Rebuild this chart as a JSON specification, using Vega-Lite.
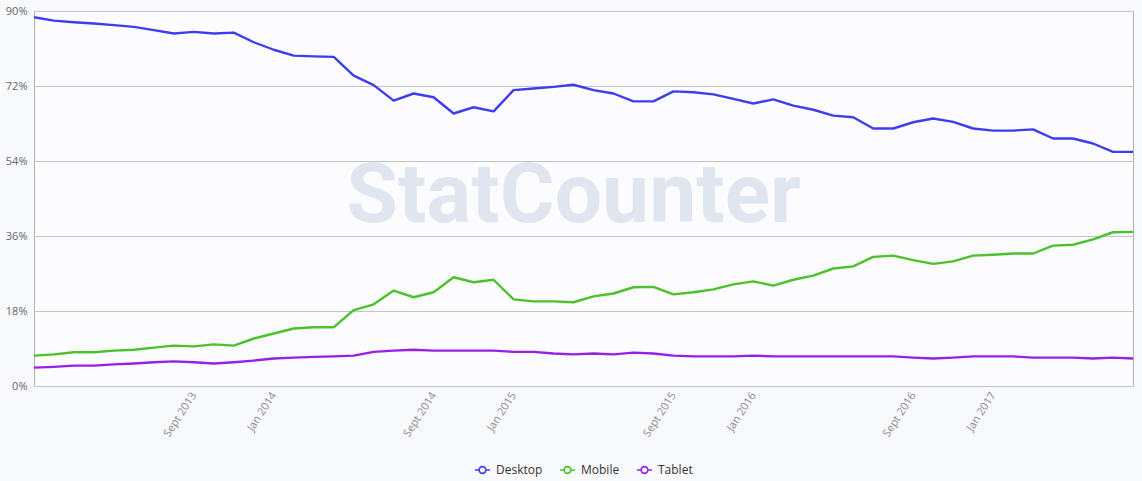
{
  "$schema": "https://vega.github.io/schema/vega-lite/v6.json",
  "width": 1099,
  "height": 375,
  "autosize": "none",
  "padding": {"left": 34, "top": 11, "right": 9, "bottom": 95},
  "background": "#f8f9fc",
  "config": {
    "view": {"stroke": "#b0b0b0", "strokeWidth": 1, "fill": "#fcfcfe"},
    "font": "Open Sans"
  },
  "data": {
    "values": [
      {"month": "2013-01", "Desktop": 88.5, "Mobile": 7.3, "Tablet": 4.4},
      {"month": "2013-02", "Desktop": 87.7, "Mobile": 7.6, "Tablet": 4.6},
      {"month": "2013-03", "Desktop": 87.3, "Mobile": 8.1, "Tablet": 4.9},
      {"month": "2013-04", "Desktop": 87.0, "Mobile": 8.1, "Tablet": 4.9},
      {"month": "2013-05", "Desktop": 86.6, "Mobile": 8.5, "Tablet": 5.2},
      {"month": "2013-06", "Desktop": 86.2, "Mobile": 8.7, "Tablet": 5.4},
      {"month": "2013-07", "Desktop": 85.4, "Mobile": 9.2, "Tablet": 5.7},
      {"month": "2013-08", "Desktop": 84.6, "Mobile": 9.7, "Tablet": 5.9},
      {"month": "2013-09", "Desktop": 85.0, "Mobile": 9.5, "Tablet": 5.7},
      {"month": "2013-10", "Desktop": 84.6, "Mobile": 10.0, "Tablet": 5.4},
      {"month": "2013-11", "Desktop": 84.8, "Mobile": 9.7, "Tablet": 5.7},
      {"month": "2013-12", "Desktop": 82.5, "Mobile": 11.4, "Tablet": 6.1},
      {"month": "2014-01", "Desktop": 80.7, "Mobile": 12.6, "Tablet": 6.6},
      {"month": "2014-02", "Desktop": 79.3, "Mobile": 13.8, "Tablet": 6.8},
      {"month": "2014-03", "Desktop": 79.1, "Mobile": 14.1, "Tablet": 7.0},
      {"month": "2014-04", "Desktop": 79.0, "Mobile": 14.1, "Tablet": 7.1},
      {"month": "2014-05", "Desktop": 74.5, "Mobile": 18.2, "Tablet": 7.3},
      {"month": "2014-06", "Desktop": 72.2, "Mobile": 19.6, "Tablet": 8.2},
      {"month": "2014-07", "Desktop": 68.5, "Mobile": 22.9, "Tablet": 8.5},
      {"month": "2014-08", "Desktop": 70.2, "Mobile": 21.3, "Tablet": 8.7},
      {"month": "2014-09", "Desktop": 69.3, "Mobile": 22.5, "Tablet": 8.5},
      {"month": "2014-10", "Desktop": 65.4, "Mobile": 26.1, "Tablet": 8.5},
      {"month": "2014-11", "Desktop": 66.9, "Mobile": 24.9, "Tablet": 8.5},
      {"month": "2014-12", "Desktop": 65.9, "Mobile": 25.5, "Tablet": 8.5},
      {"month": "2015-01", "Desktop": 71.0, "Mobile": 20.8, "Tablet": 8.2},
      {"month": "2015-02", "Desktop": 71.4, "Mobile": 20.3, "Tablet": 8.2},
      {"month": "2015-03", "Desktop": 71.8, "Mobile": 20.3, "Tablet": 7.8},
      {"month": "2015-04", "Desktop": 72.3, "Mobile": 20.1, "Tablet": 7.6},
      {"month": "2015-05", "Desktop": 71.0, "Mobile": 21.5, "Tablet": 7.8},
      {"month": "2015-06", "Desktop": 70.2, "Mobile": 22.2, "Tablet": 7.6},
      {"month": "2015-07", "Desktop": 68.3, "Mobile": 23.7, "Tablet": 8.0},
      {"month": "2015-08", "Desktop": 68.3, "Mobile": 23.8, "Tablet": 7.8},
      {"month": "2015-09", "Desktop": 70.7, "Mobile": 22.0, "Tablet": 7.3},
      {"month": "2015-10", "Desktop": 70.5, "Mobile": 22.5, "Tablet": 7.1},
      {"month": "2015-11", "Desktop": 70.0, "Mobile": 23.2, "Tablet": 7.1},
      {"month": "2015-12", "Desktop": 68.9, "Mobile": 24.4, "Tablet": 7.1},
      {"month": "2016-01", "Desktop": 67.8, "Mobile": 25.1, "Tablet": 7.3},
      {"month": "2016-02", "Desktop": 68.8, "Mobile": 24.1, "Tablet": 7.1},
      {"month": "2016-03", "Desktop": 67.3, "Mobile": 25.5, "Tablet": 7.1},
      {"month": "2016-04", "Desktop": 66.3, "Mobile": 26.5, "Tablet": 7.1},
      {"month": "2016-05", "Desktop": 64.9, "Mobile": 28.2, "Tablet": 7.1},
      {"month": "2016-06", "Desktop": 64.5, "Mobile": 28.7, "Tablet": 7.1},
      {"month": "2016-07", "Desktop": 61.8, "Mobile": 31.0, "Tablet": 7.1},
      {"month": "2016-08", "Desktop": 61.8, "Mobile": 31.3, "Tablet": 7.1},
      {"month": "2016-09", "Desktop": 63.3, "Mobile": 30.2, "Tablet": 6.8},
      {"month": "2016-10", "Desktop": 64.2, "Mobile": 29.3, "Tablet": 6.6},
      {"month": "2016-11", "Desktop": 63.4, "Mobile": 29.9, "Tablet": 6.8},
      {"month": "2016-12", "Desktop": 61.8, "Mobile": 31.3, "Tablet": 7.1},
      {"month": "2017-01", "Desktop": 61.3, "Mobile": 31.5, "Tablet": 7.1},
      {"month": "2017-02", "Desktop": 61.3, "Mobile": 31.8, "Tablet": 7.1},
      {"month": "2017-03", "Desktop": 61.6, "Mobile": 31.8, "Tablet": 6.8},
      {"month": "2017-04", "Desktop": 59.4, "Mobile": 33.7, "Tablet": 6.8},
      {"month": "2017-05", "Desktop": 59.4, "Mobile": 33.9, "Tablet": 6.8},
      {"month": "2017-06", "Desktop": 58.2, "Mobile": 35.2, "Tablet": 6.6},
      {"month": "2017-07", "Desktop": 56.2, "Mobile": 36.9, "Tablet": 6.8},
      {"month": "2017-08", "Desktop": 56.2, "Mobile": 37.0, "Tablet": 6.6}
    ]
  },
  "encoding": {
    "x": {
      "field": "month",
      "type": "ordinal",
      "sort": "ascending",
      "scale": {"type": "point", "padding": 0},
      "axis": {
        "title": null,
        "values": ["2013-09", "2014-01", "2014-09", "2015-01", "2015-09", "2016-01", "2016-09", "2017-01"],
        "labelExpr": "(substring(datum.value, 5) == '09' ? 'Sept ' : 'Jan ') + substring(datum.value, 0, 4)",
        "labelAngle": -57,
        "labelPadding": 7,
        "labelFont": "Open Sans",
        "labelFontSize": 11,
        "labelColor": "#8a8a8a",
        "ticks": false,
        "domain": false,
        "grid": false
      }
    },
    "y": {
      "type": "quantitative",
      "scale": {"domain": [0, 90], "nice": false, "zero": true},
      "axis": {
        "title": null,
        "values": [0, 18, 36, 54, 72, 90],
        "labelExpr": "datum.value + '%'",
        "labelFont": "Open Sans",
        "labelFontSize": 11,
        "labelColor": "#666666",
        "labelPadding": 7,
        "ticks": false,
        "domain": false,
        "grid": true,
        "gridColor": "#c4c4c4",
        "gridWidth": 1
      }
    }
  },
  "layer": [
    {
      "data": {"values": [{"wm": "StatCounter"}]},
      "mark": {
        "type": "text",
        "font": "Roboto",
        "fontWeight": "bold",
        "fontSize": 84,
        "align": "center",
        "baseline": "alphabetic",
        "color": "#dfe6f0"
      },
      "encoding": {
        "x": {"datum": "2015-04"},
        "y": {"datum": 39.4},
        "text": {"field": "wm"}
      }
    },
    {
      "transform": [{"fold": ["Desktop", "Mobile", "Tablet"], "as": ["platform", "share"]}],
      "mark": {"type": "line", "strokeWidth": 2.4, "strokeJoin": "round"},
      "encoding": {
        "y": {"field": "share", "type": "quantitative"},
        "color": {
          "field": "platform",
          "type": "nominal",
          "scale": {"domain": ["Desktop", "Mobile", "Tablet"], "range": ["#3d3df0", "#4bc22b", "#9a1fe6"]},
          "legend": {
            "title": null,
            "orient": "none",
            "legendX": 440,
            "legendY": 450,
            "direction": "horizontal",
            "symbolType": "M-1,0L-0.45,0M0.45,0L1,0M0.45,0A0.45,0.45,0,1,1,-0.45,0A0.45,0.45,0,1,1,0.45,0Z",
            "symbolSize": 225,
            "symbolStrokeWidth": 1.6,
            "symbolFillColor": "transparent",
            "labelFont": "Open Sans",
            "labelFontSize": 12,
            "labelColor": "#333333",
            "labelOffset": 5,
            "columnPadding": 13
          }
        }
      }
    }
  ]
}
